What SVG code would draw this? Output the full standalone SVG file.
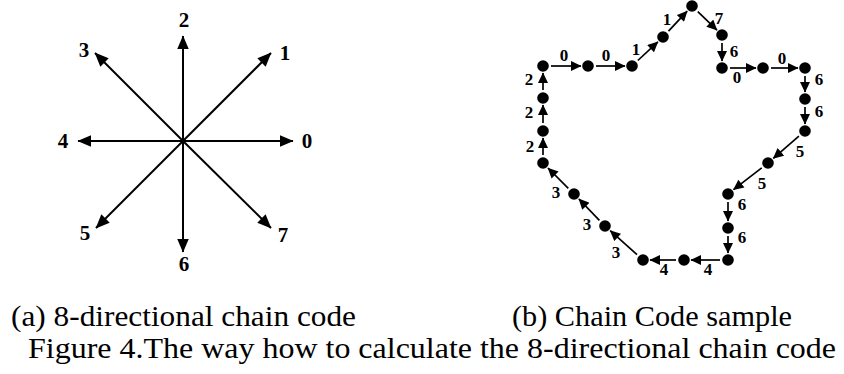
<svg xmlns="http://www.w3.org/2000/svg" width="844" height="374" viewBox="0 0 844 374">
<style>
.big{font-family:"Liberation Serif","Times New Roman",serif;font-weight:bold;font-size:21px;text-anchor:middle;fill:#000}
.sm{font-family:"Liberation Serif","Times New Roman",serif;font-weight:bold;font-size:17px;text-anchor:middle;fill:#000}
.cap{font-family:"Liberation Serif","Times New Roman",serif;font-size:29px;fill:#000}
.ax{stroke:#000;stroke-width:2;fill:none;marker-end:url(#hb)}
.ar{stroke:#000;stroke-width:1.7;fill:none;marker-end:url(#hs)}
.nd{fill:#000}
</style>
<defs>
<marker id="hb" markerUnits="userSpaceOnUse" markerWidth="14" markerHeight="12" viewBox="0 0 13 11" refX="12.5" refY="5.5" orient="auto"><path d="M0,0 L13,5.5 L0,11 Z" fill="#000"/></marker>
<marker id="hs" markerUnits="userSpaceOnUse" markerWidth="11" markerHeight="10" viewBox="0 0 10 9.5" refX="9.5" refY="4.75" orient="auto"><path d="M0,0 L10,4.75 L0,9.5 Z" fill="#000"/></marker>
</defs>
<rect width="844" height="374" fill="#fff"/>
<g id="compass">
<g id="connectors-a">
<line class="ax" x1="183" y1="141" x2="293" y2="141"/>
<line class="ax" x1="183" y1="141" x2="271" y2="53"/>
<line class="ax" x1="183" y1="141" x2="183" y2="36"/>
<line class="ax" x1="183" y1="141" x2="95" y2="53"/>
<line class="ax" x1="183" y1="141" x2="78" y2="141"/>
<line class="ax" x1="183" y1="141" x2="96" y2="228"/>
<line class="ax" x1="183" y1="141" x2="183" y2="252"/>
<line class="ax" x1="183" y1="141" x2="271" y2="228"/>
</g>
<g id="dir-labels">
<text class="big" x="307" y="148">0</text>
<text class="big" x="285" y="60">1</text>
<text class="big" x="184" y="27">2</text>
<text class="big" x="84" y="57">3</text>
<text class="big" x="63" y="148">4</text>
<text class="big" x="85" y="240">5</text>
<text class="big" x="184" y="271">6</text>
<text class="big" x="283" y="242">7</text>
</g>
</g>
<g id="chain">
<g id="connectors-b">
<line class="ar" x1="551" y1="66" x2="581" y2="66"/>
<line class="ar" x1="596" y1="66" x2="625" y2="66"/>
<line class="ar" x1="637.8" y1="60.5" x2="657.9" y2="41.8"/>
<line class="ar" x1="668.5" y1="31.2" x2="687.2" y2="11.1"/>
<line class="ar" x1="697.8" y1="11.6" x2="717" y2="30.1"/>
<line class="ar" x1="722" y1="43" x2="722" y2="61"/>
<line class="ar" x1="730" y1="68" x2="756" y2="68"/>
<line class="ar" x1="771" y1="68" x2="798" y2="68"/>
<line class="ar" x1="805" y1="76" x2="805" y2="92"/>
<line class="ar" x1="805" y1="107" x2="805" y2="124"/>
<line class="ar" x1="798.9" y1="136.2" x2="773.3" y2="158.4"/>
<line class="ar" x1="761.7" y1="167.9" x2="733.5" y2="189.7"/>
<line class="ar" x1="728" y1="202" x2="728" y2="221"/>
<line class="ar" x1="728" y1="236" x2="728" y2="253"/>
<line class="ar" x1="720" y1="260" x2="691" y2="260"/>
<line class="ar" x1="676" y1="260" x2="650" y2="260"/>
<line class="ar" x1="637" y1="254.7" x2="610.2" y2="230.7"/>
<line class="ar" x1="599.4" y1="220.3" x2="578.9" y2="199"/>
<line class="ar" x1="568.3" y1="188.3" x2="548" y2="168"/>
<line class="ar" x1="543" y1="155" x2="543" y2="138"/>
<line class="ar" x1="543" y1="123" x2="543" y2="105"/>
<line class="ar" x1="543" y1="90" x2="543" y2="73"/>
</g>
<g id="nodes">
<circle id="p0" class="nd" cx="543" cy="66" r="5.8"/>
<circle id="p1" class="nd" cx="588" cy="66" r="5.8"/>
<circle id="p2" class="nd" cx="632" cy="66" r="5.8"/>
<circle id="p3" class="nd" cx="663" cy="37" r="5.8"/>
<circle id="p4" class="nd" cx="692" cy="6" r="5.8"/>
<circle id="p5" class="nd" cx="722" cy="35" r="5.8"/>
<circle id="p6" class="nd" cx="722" cy="68" r="5.8"/>
<circle id="p7" class="nd" cx="763" cy="68" r="5.8"/>
<circle id="p8" class="nd" cx="805" cy="68" r="5.8"/>
<circle id="p9" class="nd" cx="805" cy="99" r="5.8"/>
<circle id="p10" class="nd" cx="805" cy="131" r="5.8"/>
<circle id="p11" class="nd" cx="768" cy="163" r="5.8"/>
<circle id="p12" class="nd" cx="728" cy="194" r="5.8"/>
<circle id="p13" class="nd" cx="728" cy="228" r="5.8"/>
<circle id="p14" class="nd" cx="728" cy="260" r="5.8"/>
<circle id="p15" class="nd" cx="684" cy="260" r="5.8"/>
<circle id="p16" class="nd" cx="643" cy="260" r="5.8"/>
<circle id="p17" class="nd" cx="605" cy="226" r="5.8"/>
<circle id="p18" class="nd" cx="574" cy="194" r="5.8"/>
<circle id="p19" class="nd" cx="543" cy="163" r="5.8"/>
<circle id="p20" class="nd" cx="543" cy="131" r="5.8"/>
<circle id="p21" class="nd" cx="543" cy="98" r="5.8"/>
</g>
<g id="code-labels">
<text class="sm" x="564" y="61">0</text>
<text class="sm" x="606" y="61">0</text>
<text class="sm" x="636" y="55">1</text>
<text class="sm" x="667" y="25">1</text>
<text class="sm" x="719" y="24">7</text>
<text class="sm" x="734" y="57">6</text>
<text class="sm" x="737" y="83">0</text>
<text class="sm" x="782" y="64">0</text>
<text class="sm" x="819" y="85">6</text>
<text class="sm" x="819" y="117">6</text>
<text class="sm" x="800" y="157">5</text>
<text class="sm" x="762" y="189">5</text>
<text class="sm" x="742" y="210">6</text>
<text class="sm" x="742" y="243">6</text>
<text class="sm" x="708" y="275">4</text>
<text class="sm" x="664" y="275">4</text>
<text class="sm" x="616" y="258">3</text>
<text class="sm" x="587" y="230">3</text>
<text class="sm" x="556" y="198">3</text>
<text class="sm" x="530" y="152">2</text>
<text class="sm" x="529" y="118">2</text>
<text class="sm" x="529" y="85">2</text>
</g>
</g>
<g id="captions">
<text class="cap" x="11" y="326" textLength="345" lengthAdjust="spacingAndGlyphs">(a) 8-directional chain code</text>
<text class="cap" x="512" y="326" textLength="280" lengthAdjust="spacingAndGlyphs">(b) Chain Code sample</text>
<text class="cap" x="28" y="358" textLength="808" lengthAdjust="spacingAndGlyphs">Figure 4.The way how to calculate the 8-directional chain code</text>
</g>
</svg>
